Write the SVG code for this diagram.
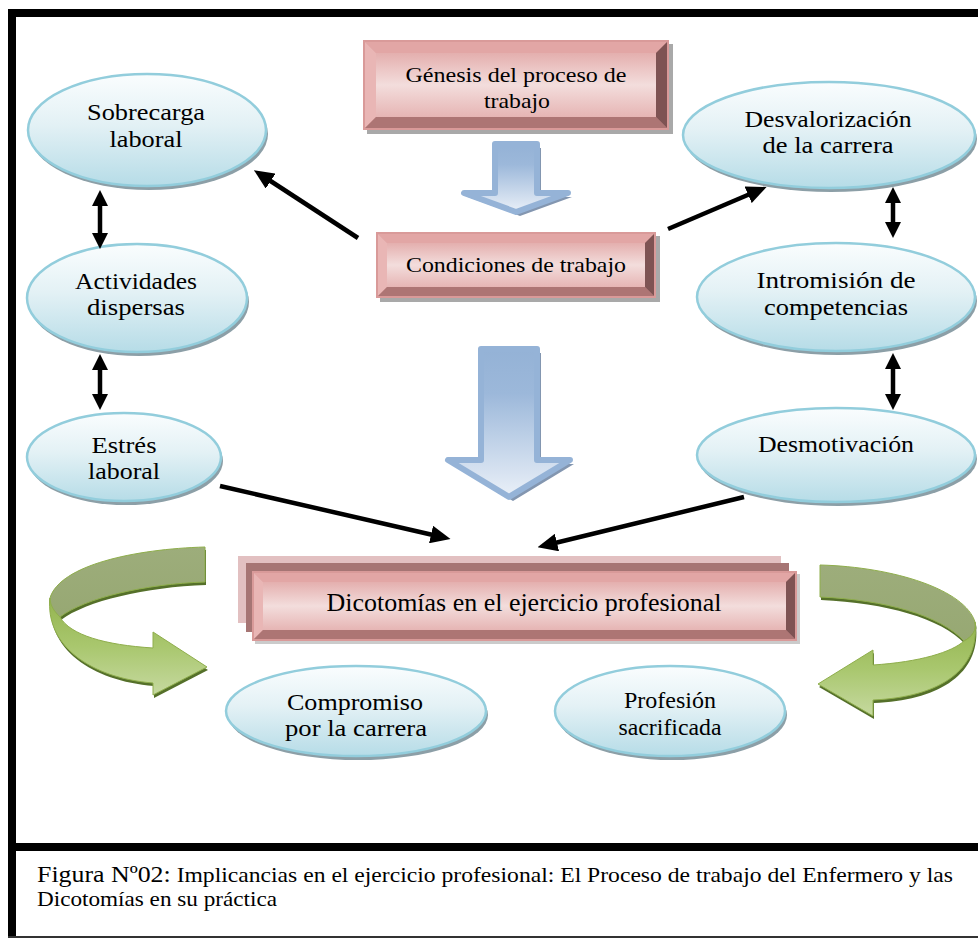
<svg xmlns="http://www.w3.org/2000/svg" width="978" height="939" viewBox="0 0 978 939">
<defs>
<style>
.lbl{font-family:"Liberation Serif","DejaVu Serif",serif;fill:#000;text-anchor:middle}
.ell{font-size:23.5px}
.box{font-size:22px}
.ellshape{fill:url(#ellG);stroke:#92cddc;stroke-width:2.5}
.ellshadow{fill:#8c9fa7}
.rim{fill:#d99a99}
.bt{fill:#e2a6a5}
.bl{fill:#e9b6b5}
.bb{fill:#ad7574}
.br{fill:#7e5353}
.face{fill:url(#faceG)}
.bshadow{fill:#a9a9a9}
.conn{stroke:#000;stroke-width:4.5;fill:none}
.dbl{stroke:#000;stroke-width:4.5;fill:none;marker-start:url(#dh);marker-end:url(#dh)}
.one{marker-end:url(#ah)}
.blue{fill:url(#blueG);stroke:#95b3d7;stroke-width:6;stroke-linejoin:round}
.blueshadow{fill:#8396b0}
.gtop{fill:url(#oliveG);stroke:#8fae4c;stroke-width:1}
.gbot{fill:url(#greenG);stroke:#8fae4c;stroke-width:1}
.gshadow{fill:#55702a}
.cap{font-family:"Liberation Serif","DejaVu Serif",serif;font-size:21px;fill:#000}
</style>
<linearGradient id="ellG" x1="0" y1="0" x2="0" y2="1">
<stop offset="0" stop-color="#fafdfe"/>
<stop offset="0.45" stop-color="#e3f1f5"/>
<stop offset="1" stop-color="#b6dce7"/>
</linearGradient>
<linearGradient id="faceG" x1="0" y1="0" x2="0" y2="1">
<stop offset="0" stop-color="#e4afae"/>
<stop offset="0.5" stop-color="#f3dddc"/>
<stop offset="1" stop-color="#e6b5b4"/>
</linearGradient>
<linearGradient id="blueG" x1="0" y1="0" x2="0" y2="1">
<stop offset="0" stop-color="#94b2d6"/>
<stop offset="0.3" stop-color="#9cb8da"/>
<stop offset="1" stop-color="#eaf0f8"/>
</linearGradient>
<linearGradient id="oliveG" x1="0" y1="0" x2="0" y2="1">
<stop offset="0" stop-color="#9dad7b"/>
<stop offset="1" stop-color="#97a873"/>
</linearGradient>
<linearGradient id="greenG" x1="0" y1="0" x2="0" y2="1">
<stop offset="0" stop-color="#94b44f"/>
<stop offset="0.5" stop-color="#a9c76e"/>
<stop offset="1" stop-color="#c6d9a0"/>
</linearGradient>
<marker id="ah" viewBox="0 0 20 18" refX="2" refY="9" markerWidth="20" markerHeight="18" markerUnits="userSpaceOnUse" orient="auto">
<path d="M0,0 L20,9 L0,18 Z" fill="#000"/>
</marker>
<marker id="dh" viewBox="0 0 16 16" refX="2" refY="8" markerWidth="16" markerHeight="16" markerUnits="userSpaceOnUse" orient="auto-start-reverse">
<path d="M0,0 L16,8 L0,16 Z" fill="#000"/>
</marker>
</defs>

<rect x="0" y="0" width="978" height="939" fill="#fff"/>

<g id="frame">
<rect x="8" y="9" width="970" height="8" fill="#000"/>
<rect x="8" y="9" width="8" height="929" fill="#000"/>
<rect x="8" y="843" width="970" height="8" fill="#000"/>
<rect x="8" y="936" width="970" height="2" fill="#333"/>
</g>

<g id="blue-arrow-1">
<path class="blueshadow" d="M499,148 L541,148 L541,197 L572,197 L520,216 L468,197 L499,197 Z"/>
<path class="blue" d="M495,144 L537,144 L537,193 L568,193 L516,212 L464,193 L495,193 Z"/>
</g>
<g id="blue-arrow-2">
<path class="blueshadow" d="M485,353 L541,353 L541,464 L574,464 L513,501 L452,464 L485,464 Z"/>
<path class="blue" d="M481,349 L537,349 L537,460 L570,460 L509,497 L448,460 L481,460 Z"/>
</g>

<g id="green-arrow-left">
<g transform="translate(1,3)">
<path class="gshadow" d="M205,547 C135,549 60,565 50,598 C48,606 52,612 60,617 C85,598 145,584 205,582 Z"/>
<path class="gshadow" d="M50,598 C45,645 90,678 153,683 L153,695 L207,667 L153,632 L153,648 C105,645 70,635 60,617 C55,612 50,606 50,598 Z"/>
</g>
<path class="gtop" d="M205,547 C135,549 60,565 50,598 C48,606 52,612 60,617 C85,598 145,584 205,582 Z"/>
<path class="gbot" d="M50,598 C45,645 90,678 153,683 L153,695 L207,667 L153,632 L153,648 C105,645 70,635 60,617 C55,612 50,606 50,598 Z"/>
</g>

<g id="green-arrow-right">
<g transform="translate(1,3)">
<path class="gshadow" d="M820,565 C895,567 965,590 975,622 C977,630 972,637 964,641 C940,615 885,600 820,597 Z"/>
<path class="gshadow" d="M975,622 C980,670 940,697 873,700 L873,716 L818,684 L873,650 L873,665 C920,662 952,652 964,641 C972,637 977,630 975,622 Z"/>
</g>
<path class="gtop" d="M820,565 C895,567 965,590 975,622 C977,630 972,637 964,641 C940,615 885,600 820,597 Z"/>
<path class="gbot" d="M975,622 C980,670 940,697 873,700 L873,716 L818,684 L873,650 L873,665 C920,662 952,652 964,641 C972,637 977,630 975,622 Z"/>
</g>

<g id="genesis">
<rect class="bshadow" x="367" y="44" width="306" height="90"/>
<rect class="rim" x="363" y="40" width="306" height="90"/>
<polygon class="bt" points="365,42 667,42 656,53 376,53"/>
<polygon class="bl" points="365,42 376,53 376,117 365,128"/>
<polygon class="bb" points="365,128 376,117 656,117 667,128"/>
<polygon class="br" points="667,42 667,128 656,117 656,53"/>
<rect class="face" x="376" y="53" width="280" height="64"/>
<text class="lbl box" x="516" y="82" textLength="221" lengthAdjust="spacingAndGlyphs">Génesis del proceso de</text>
<text class="lbl box" x="517" y="108" textLength="66" lengthAdjust="spacingAndGlyphs">trabajo</text>
</g>

<g id="condiciones">
<rect class="bshadow" x="380" y="236" width="280" height="66"/>
<rect class="rim" x="376" y="232" width="280" height="66"/>
<polygon class="bt" points="378,234 654,234 645,243 387,243"/>
<polygon class="bl" points="378,234 387,243 387,287 378,296"/>
<polygon class="bb" points="378,296 387,287 645,287 654,296"/>
<polygon class="br" points="654,234 654,296 645,287 645,243"/>
<rect class="face" x="387" y="243" width="258" height="44"/>
<text class="lbl box" x="516" y="272" textLength="220" lengthAdjust="spacingAndGlyphs">Condiciones de trabajo</text>
</g>

<g id="dicotomias">
<rect x="238" y="556" width="543" height="67" fill="#e2c0c1"/>
<rect x="246" y="563" width="543" height="69" fill="#a67574"/>
<rect class="bshadow" x="255" y="574" width="545" height="70" opacity="0.6"/>
<rect class="rim" x="252" y="571" width="545" height="70"/>
<polygon class="bt" points="254,573 795,573 786,582 263,582"/>
<polygon class="bl" points="254,573 263,582 263,630 254,639"/>
<polygon class="bb" points="254,639 263,630 786,630 795,639"/>
<polygon class="br" points="795,573 795,639 786,630 786,582"/>
<rect class="face" x="263" y="582" width="523" height="48"/>
<text class="lbl" x="524" y="611" font-size="25" textLength="395" lengthAdjust="spacingAndGlyphs">Dicotomías en el ejercicio profesional</text>
</g>

<g id="sobrecarga">
<ellipse class="ellshadow" cx="149" cy="134" rx="119" ry="56"/>
<ellipse class="ellshape" cx="147" cy="130" rx="119" ry="56"/>
<text class="lbl ell" x="146" y="120" textLength="118" lengthAdjust="spacingAndGlyphs">Sobrecarga</text>
<text class="lbl ell" x="146" y="147" textLength="73" lengthAdjust="spacingAndGlyphs">laboral</text>
</g>

<g id="actividades">
<ellipse class="ellshadow" cx="139" cy="302" rx="110" ry="54"/>
<ellipse class="ellshape" cx="137" cy="298" rx="110" ry="54"/>
<text class="lbl ell" x="136" y="289" textLength="122" lengthAdjust="spacingAndGlyphs">Actividades</text>
<text class="lbl ell" x="136" y="315" textLength="98" lengthAdjust="spacingAndGlyphs">dispersas</text>
</g>

<g id="estres">
<ellipse class="ellshadow" cx="126" cy="461" rx="97" ry="44"/>
<ellipse class="ellshape" cx="124" cy="457" rx="97" ry="44"/>
<text class="lbl ell" x="124" y="453" textLength="65" lengthAdjust="spacingAndGlyphs">Estrés</text>
<text class="lbl ell" x="124" y="479" textLength="72" lengthAdjust="spacingAndGlyphs">laboral</text>
</g>

<g id="desvalorizacion">
<ellipse class="ellshadow" cx="831" cy="139" rx="146" ry="53"/>
<ellipse class="ellshape" cx="829" cy="135" rx="146" ry="53"/>
<text class="lbl ell" x="828" y="127" textLength="167" lengthAdjust="spacingAndGlyphs">Desvalorización</text>
<text class="lbl ell" x="828" y="153" textLength="131" lengthAdjust="spacingAndGlyphs">de la carrera</text>
</g>

<g id="intromision">
<ellipse class="ellshadow" cx="838" cy="301" rx="139" ry="54"/>
<ellipse class="ellshape" cx="836" cy="297" rx="139" ry="54"/>
<text class="lbl ell" x="836" y="288" textLength="159" lengthAdjust="spacingAndGlyphs">Intromisión de</text>
<text class="lbl ell" x="836" y="315" textLength="144" lengthAdjust="spacingAndGlyphs">competencias</text>
</g>

<g id="desmotivacion">
<ellipse class="ellshadow" cx="838" cy="459" rx="139" ry="47"/>
<ellipse class="ellshape" cx="836" cy="455" rx="139" ry="47"/>
<text class="lbl ell" x="836" y="452" textLength="156" lengthAdjust="spacingAndGlyphs">Desmotivación</text>
</g>

<g id="compromiso">
<ellipse class="ellshadow" cx="358" cy="715" rx="130" ry="45"/>
<ellipse class="ellshape" cx="356" cy="711" rx="130" ry="45"/>
<text class="lbl ell" x="355" y="710" textLength="136" lengthAdjust="spacingAndGlyphs">Compromiso</text>
<text class="lbl ell" x="356" y="736" textLength="142" lengthAdjust="spacingAndGlyphs">por la carrera</text>
</g>

<g id="profesion">
<ellipse class="ellshadow" cx="672" cy="715" rx="115" ry="45"/>
<ellipse class="ellshape" cx="670" cy="711" rx="115" ry="45"/>
<text class="lbl ell" x="670" y="708" textLength="92" lengthAdjust="spacingAndGlyphs">Profesión</text>
<text class="lbl ell" x="670" y="735" textLength="103" lengthAdjust="spacingAndGlyphs">sacrificada</text>
</g>

<g id="connectors">
<line class="conn one" x1="358" y1="238" x2="269" y2="180"/>
<line class="conn one" x1="668" y1="229" x2="750" y2="194"/>
<line class="conn one" x1="220" y1="486" x2="433" y2="535"/>
<line class="conn one" x1="744" y1="497" x2="555" y2="543"/>
<line class="dbl" x1="100" y1="204" x2="100" y2="235"/>
<line class="dbl" x1="100" y1="368" x2="100" y2="396"/>
<line class="dbl" x1="893" y1="201" x2="893" y2="224"/>
<line class="dbl" x1="893" y1="367" x2="893" y2="396"/>
</g>

<g id="caption">
<text class="cap" x="37" y="882" textLength="916" lengthAdjust="spacingAndGlyphs"><tspan font-size="23">Figura Nº02:</tspan> Implicancias en el ejercicio profesional: El Proceso de trabajo del Enfermero  y las</text>
<text class="cap" x="37" y="906" textLength="240" lengthAdjust="spacingAndGlyphs">Dicotomías en su práctica</text>
</g>
</svg>
